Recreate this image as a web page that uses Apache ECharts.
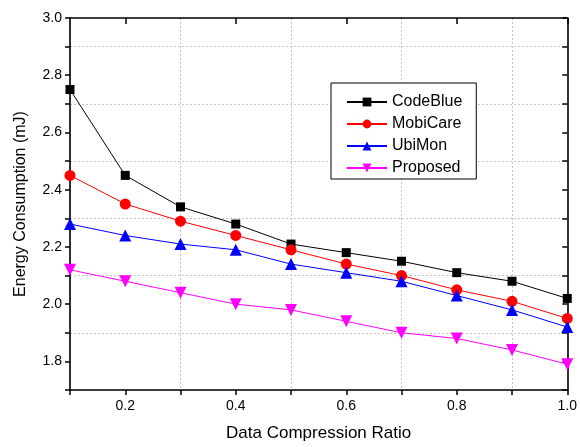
<!DOCTYPE html>
<html>
<head>
<meta charset="utf-8">
<script src="https://cdn.jsdelivr.net/npm/echarts@6/dist/echarts.min.js"></script>
<style>
html,body{margin:0;padding:0;background:#fff;}
#chart{width:580px;height:447px;}
</style>
</head>
<body>
<div id="chart"></div>
<script>
const xValues = [0.1, 0.2, 0.3, 0.4, 0.5, 0.6, 0.7, 0.8, 0.9, 1.0];
const codeBlue = [2.75, 2.45, 2.34, 2.28, 2.21, 2.18, 2.15, 2.11, 2.08, 2.02];
const mobiCare = [2.45, 2.35, 2.29, 2.24, 2.19, 2.14, 2.10, 2.05, 2.01, 1.95];
const ubiMon = [2.28, 2.24, 2.21, 2.19, 2.14, 2.11, 2.08, 2.03, 1.98, 1.92];
const proposed = [2.12, 2.08, 2.04, 2.00, 1.98, 1.94, 1.90, 1.88, 1.84, 1.79];
const topCategories = ['0.1','0.2','0.3','0.4','0.5','0.6','0.7','0.8','0.9','1.0'];

const FONT = '"Liberation Sans", Arial, sans-serif';
const pair = arr => xValues.map((x, i) => [x, arr[i]]);
const evenTenth = v => Math.round(v * 10) % 2 === 0;

const chart = echarts.init(document.getElementById('chart'), null, {renderer: 'canvas'});
const gridLine = {
  show: true, showMinLine: true, showMaxLine: true,
  lineStyle: {color: ['#c4c4c4', 'rgba(0,0,0,0)'], type: [2, 2], width: 1}
};
const axisLine = {show: true, onZero: false, lineStyle: {color: '#000', width: 1.6}};

chart.setOption({
  animation: false,
  backgroundColor: '#fff',
  grid: {left: 70, right: 7, top: 18, bottom: 54.5, containLabel: false},
  legend: {
    orient: 'vertical',
    left: 331, top: 83,
    padding: [11, 14, 3, 15],
    itemGap: 6,
    itemWidth: 40, itemHeight: 11,
    backgroundColor: '#fff',
    borderColor: '#000', borderWidth: 1,
    textStyle: {fontFamily: FONT, fontSize: 16, color: '#000', lineHeight: 16},
    data: ['CodeBlue', 'MobiCare', 'UbiMon', 'Proposed']
  },
  xAxis: [{
    type: 'value', min: 0.1, max: 1.0, interval: 0.1,
    name: 'Data Compression Ratio', nameLocation: 'middle', nameGap: 35,
    nameTextStyle: {fontFamily: FONT, fontSize: 17, color: '#000'},
    axisLine: axisLine,
    axisTick: {show: true, inside: false, length: 5, lineStyle: {color: '#000', width: 1.5}},
    axisLabel: {fontFamily: FONT, fontSize: 14, color: '#000', margin: 9,
      alignMinLabel: 'center', alignMaxLabel: 'center',
      formatter: v => evenTenth(v) ? v.toFixed(1) : ''},
    splitLine: gridLine
  }, {
    type: 'category', position: 'top', boundaryGap: false, data: topCategories,
    axisLine: axisLine,
    axisTick: {show: true, inside: true, length: 6, interval: i => i % 2 === 1,
      lineStyle: {color: '#000', width: 1.5}},
    axisLabel: {show: false},
    splitLine: {show: false}
  }],
  yAxis: [{
    type: 'value', min: 1.7, max: 3.0, interval: 0.1,
    name: 'Energy Consumption (mJ)', nameLocation: 'middle', nameGap: 41,
    nameTextStyle: {fontFamily: FONT, fontSize: 16, color: '#000'},
    axisLine: axisLine,
    axisTick: {show: true, inside: false, length: 5, lineStyle: {color: '#000', width: 1.5}},
    axisLabel: {fontFamily: FONT, fontSize: 14, color: '#000', margin: 8,
      formatter: v => evenTenth(v) ? v.toFixed(1) : ''},
    splitLine: gridLine
  }, {
    type: 'value', min: 1.7, max: 3.0, interval: 0.1, position: 'right',
    axisLine: axisLine,
    axisTick: {show: true, inside: true, length: 5, lineStyle: {color: '#000', width: 1.5}},
    axisLabel: {show: false},
    splitLine: {show: false}
  }],
  series: [
    {name: 'CodeBlue', type: 'line', data: pair(codeBlue), symbol: 'rect', symbolSize: 9,
      itemStyle: {color: '#000'}, lineStyle: {color: '#000', width: 1}},
    {name: 'MobiCare', type: 'line', data: pair(mobiCare), symbol: 'circle', symbolSize: 11,
      itemStyle: {color: '#ff0000'}, lineStyle: {color: '#ff0000', width: 1}},
    {name: 'UbiMon', type: 'line', data: pair(ubiMon), symbol: 'triangle', symbolSize: 12,
      itemStyle: {color: '#0000ff'}, lineStyle: {color: '#0000ff', width: 1}},
    {name: 'Proposed', type: 'line', data: pair(proposed), symbol: 'triangle', symbolRotate: 180, symbolSize: 12,
      itemStyle: {color: '#ff00ff'}, lineStyle: {color: '#ff00ff', width: 1}}
  ]
});
</script>
</body>
</html>
